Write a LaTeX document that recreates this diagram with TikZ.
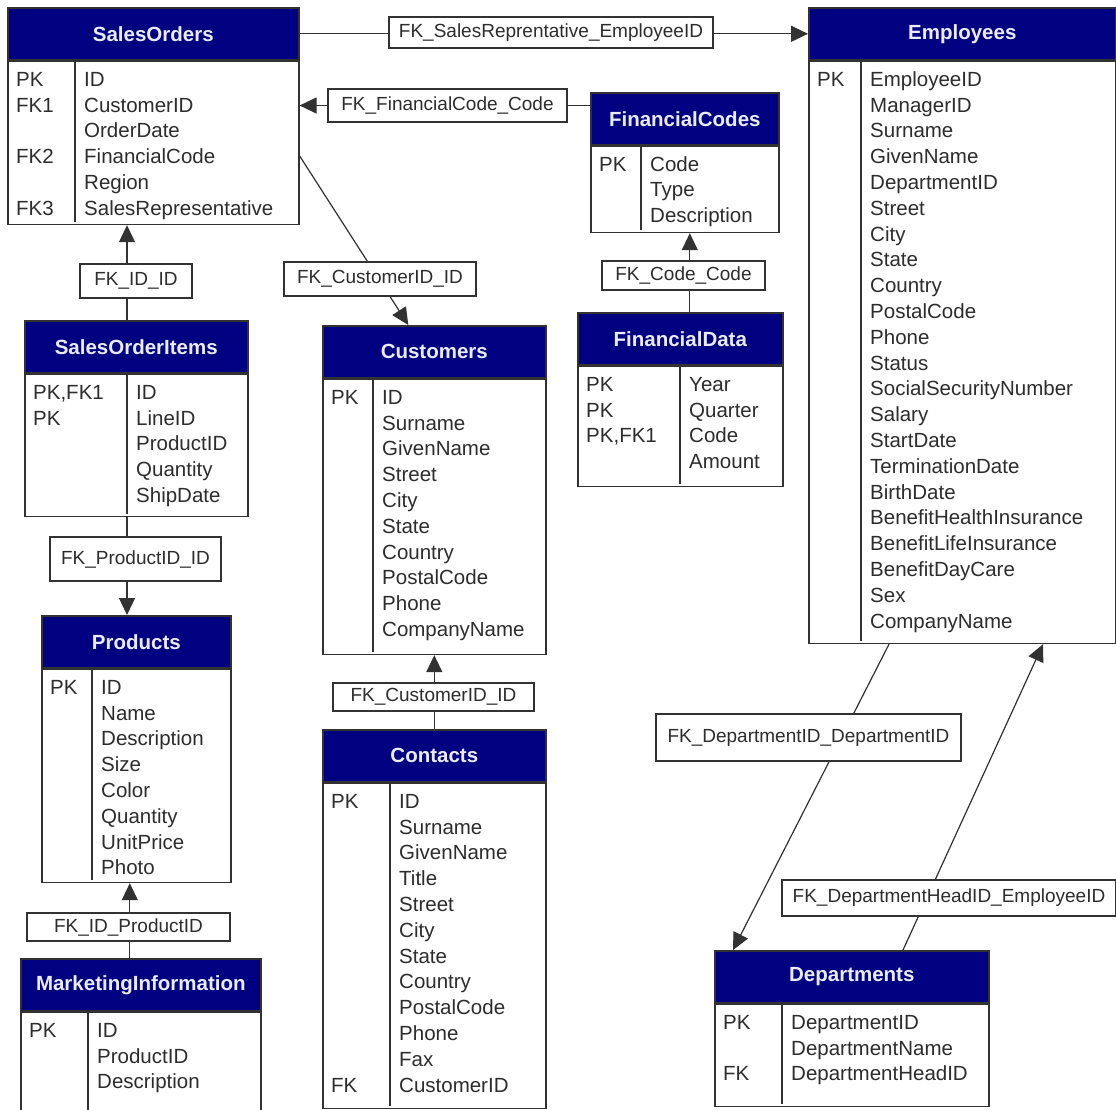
\documentclass[tikz,border=0pt]{standalone}
\usepackage{fontspec}
\setmainfont{Liberation Sans}
\usetikzlibrary{arrows.meta,calc}
\definecolor{ernavy}{RGB}{0,0,128}
\definecolor{ertext}{RGB}{45,45,45}
\definecolor{erline}{RGB}{50,50,50}
\newcommand{\rowtop}{\rule{0pt}{15pt}}
\tikzset{
 tblhead/.style={draw=erline,line width=1.6pt,fill=ernavy,text=white!92!blue,inner sep=0pt,
  minimum height=52pt,font=\fontsize{20.5}{25.8}\selectfont\bfseries},
 tblbody/.style={draw=erline,line width=1.6pt,fill=white,inner sep=0pt},
 tblrule/.style={draw=erline,line width=1.6pt},
 tblcol/.style={anchor=north west,inner sep=0pt,align=left,text=ertext,
  font=\fontsize{20.5}{25.8}\selectfont},
 fkline/.style={draw=erline,line width=1.2pt},
 fkarrow/.style={fkline,-{Triangle[length=17pt,width=16pt]}},
 fklabel/.style={draw=erline,line width=1.2pt,fill=white,text=ertext,inner sep=0pt,
  font=\fontsize{19}{22}\selectfont}
}
\newcommand{\entity}[9]{
 \node[tblhead,minimum width={(#5-#3)*1pt},anchor=north west] (#1) at (#3,#4) {#2};
 \node[tblbody,minimum width={(#5-#3)*1pt},minimum height={(#6-#4-52)*1pt},anchor=north west] (#1-b) at (#1.south west) {};
 \coordinate (#1-d) at (#7,#4);
 \draw[tblrule] (#7,{#4+52}) -- (#7,#6);
 \node[tblcol] (#1-k) at ({#3+9},{#4+64}) {\rowtop#8};
 \node[tblcol] (#1-f) at ({#7+9},{#4+64}) {\rowtop#9};
}
\begin{document}
\begin{tikzpicture}[x=1pt,y=-1pt]
\useasboundingbox[fill=white] (0,0) rectangle (1116,1110);

\entity{so}{SalesOrders}{7}{7}{298}{222}{75}
 {PK\\FK1\\ \\FK2\\ \\FK3}
 {ID\\CustomerID\\OrderDate\\FinancialCode\\Region\\SalesRepresentative}
\entity{emp}{Employees}{808}{7}{1115}{641}{861}
 {PK}
 {EmployeeID\\ManagerID\\Surname\\GivenName\\DepartmentID\\Street\\City\\State\\Country\\PostalCode\\Phone\\Status\\SocialSecurityNumber\\Salary\\StartDate\\TerminationDate\\BirthDate\\BenefitHealthInsurance\\BenefitLifeInsurance\\BenefitDayCare\\Sex\\CompanyName}
\entity{fc}{FinancialCodes}{590}{92}{778}{230}{641}
 {PK}
 {Code\\Type\\Description}
\entity{fd}{FinancialData}{577}{312}{782}{484}{680}
 {PK\\PK\\PK,FK1}
 {Year\\Quarter\\Code\\Amount}
\entity{cu}{Customers}{322}{325}{545}{652}{373}
 {PK}
 {ID\\Surname\\GivenName\\Street\\City\\State\\Country\\PostalCode\\Phone\\CompanyName}
\entity{soi}{SalesOrderItems}{24}{320}{247}{514}{127}
 {PK,FK1\\PK}
 {ID\\LineID\\ProductID\\Quantity\\ShipDate}
\entity{prod}{Products}{41}{615}{230}{880}{92}
 {PK}
 {ID\\Name\\Description\\Size\\Color\\Quantity\\UnitPrice\\Photo}
\entity{mi}{MarketingInformation}{20}{958}{260}{1130}{88}
 {PK}
 {ID\\ProductID\\Description}
\entity{co}{Contacts}{322}{729}{545}{1106}{390}
 {PK\\ \\ \\ \\ \\ \\ \\ \\ \\ \\ \\FK}
 {ID\\Surname\\GivenName\\Title\\Street\\City\\State\\Country\\PostalCode\\Phone\\Fax\\CustomerID}
\entity{dep}{Departments}{714}{950}{988}{1104}{782}
 {PK\\ \\FK}
 {DepartmentID\\DepartmentName\\DepartmentHeadID}

\coordinate (fcend) at ($(fc.north west)+(0,13.5)$);
\coordinate (cutop) at ($(cu.north)+(-26,0)$);
\coordinate (mitop) at ($(mi.north)+(-11,0)$);
\coordinate (fdtop) at ($(fd.north)+(9.5,0)$);
\coordinate (empdd) at ($(emp-b.south west)+(81,0)$);
\coordinate (empdh) at ($(emp-b.south west)+(235,0)$);
\coordinate (depdd) at ($(dep.north west)+(19,0)$);
\coordinate (depdh) at ($(dep.north west)+(189,0)$);

\draw[fkarrow] (so.east) -- (emp.west);
\draw[fkarrow] (fcend) -- (fcend -| so-b.east);
\draw[fkarrow] ($(so-b.east)+(0,13)$) -- (cutop);
\draw[fkarrow] (soi-d) -- (soi-d |- so-b.south);
\draw[fkarrow] (soi-d |- soi-b.south) -- (soi-d |- prod.north);
\draw[fkarrow] (mitop) -- (mitop |- prod-b.south);
\draw[fkarrow] (co.north) -- (cu-b.south);
\draw[fkarrow] (fdtop) -- (fdtop |- fc-b.south);
\draw[fkarrow] (empdd) -- (depdd);
\draw[fkarrow] (depdh) -- (empdh);

\node[fklabel,minimum width=324pt,minimum height=31pt] (lsr) at (551,32.5) {FK\_SalesReprentative\_EmployeeID};
\node[fklabel,minimum width=239pt,minimum height=33pt] (lfc) at (447.5,105.5) {FK\_FinancialCode\_Code};
\node[fklabel,minimum width=192pt,minimum height=34pt] (lcu) at (380,279) {FK\_CustomerID\_ID};
\node[fklabel,minimum width=112pt,minimum height=34pt] (lid) at (136,281) {FK\_ID\_ID};
\node[fklabel,minimum width=163pt,minimum height=29pt] (lcc) at (683.5,275.5) {FK\_Code\_Code};
\node[fklabel,minimum width=171pt,minimum height=44pt] (lpi) at (135.5,559) {FK\_ProductID\_ID};
\node[fklabel,minimum width=203pt,minimum height=28pt] (lip) at (128.5,927) {FK\_ID\_ProductID};
\node[fklabel,minimum width=201pt,minimum height=28pt] (lco) at (433.5,697) {FK\_CustomerID\_ID};
\node[fklabel,minimum width=305pt,minimum height=47pt] (ldd) at (808.5,737.5) {FK\_DepartmentID\_DepartmentID};
\node[fklabel,minimum width=334pt,minimum height=36pt] (ldh) at (949,898) {FK\_DepartmentHeadID\_EmployeeID};
\end{tikzpicture}
\end{document}
